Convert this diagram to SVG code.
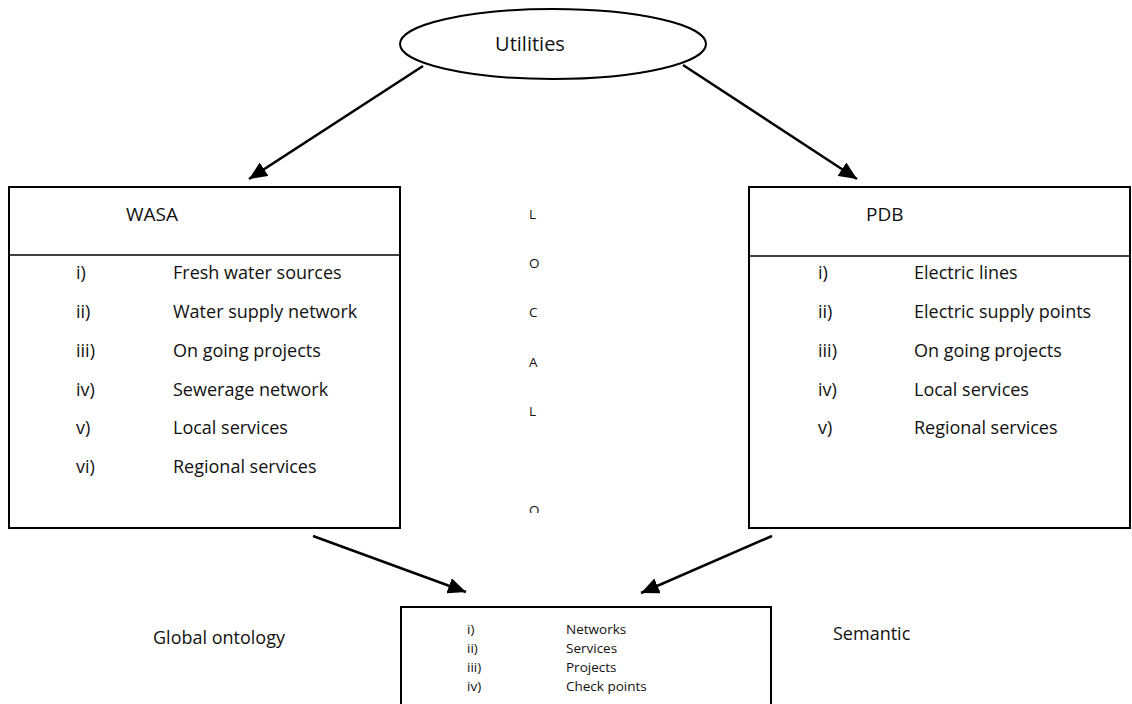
<svg xmlns="http://www.w3.org/2000/svg" width="1132" height="704" viewBox="0 0 1132 704">
<style>
text{font-family:"Open Sans","Liberation Sans",sans-serif;fill:#111}
.box{fill:#fff;stroke:#000;stroke-width:2}
.sep{stroke:#000;stroke-width:1.5}
.t{font-size:18px}
.s{font-size:13.5px}
.l{font-size:13.5px}
.c{stroke:#000;stroke-width:2.5;fill:none;marker-end:url(#ah)}
</style>
<defs>
<marker id="ah" markerUnits="userSpaceOnUse" markerWidth="20" markerHeight="16" refX="18" refY="8" orient="auto">
<path d="M0,0 L18,8 L0,16 Z" fill="#000"/>
</marker>
<clipPath id="clipO"><rect x="500" y="495" width="60" height="18"/></clipPath>
</defs>
<rect width="1132" height="704" fill="#fff"/>
<g id="connectors">
<line class="c" x1="423" y1="66" x2="249" y2="179"/>
<line class="c" x1="683" y1="65" x2="857" y2="179"/>
<line class="c" x1="313" y1="536" x2="466" y2="592"/>
<line class="c" x1="772" y1="536" x2="641" y2="593"/>
</g>
<g id="utilities">
<ellipse cx="553" cy="44" rx="153" ry="35" fill="#fff" stroke="#000" stroke-width="2"/>
<text x="530" y="51" class="t" style="font-size:20px" text-anchor="middle">Utilities</text>
</g>
<g id="wasa">
<rect class="box" x="9" y="187" width="391" height="341"/>
<line class="sep" x1="9" y1="255" x2="400" y2="255"/>
<text x="126" y="221" class="t" style="font-size:19px">WASA</text>
<text x="76" y="279" class="t">i)</text><text x="173" y="279" class="t">Fresh water sources</text>
<text x="76" y="318" class="t">ii)</text><text x="173" y="318" class="t">Water supply network</text>
<text x="76" y="357" class="t">iii)</text><text x="173" y="357" class="t">On going projects</text>
<text x="76" y="396" class="t">iv)</text><text x="173" y="396" class="t">Sewerage network</text>
<text x="76" y="434" class="t">v)</text><text x="173" y="434" class="t">Local services</text>
<text x="76" y="473" class="t">vi)</text><text x="173" y="473" class="t">Regional services</text>
</g>
<g id="pdb">
<rect class="box" x="749" y="187" width="381" height="341"/>
<line class="sep" x1="749" y1="256" x2="1130" y2="256"/>
<text x="866" y="221" class="t" style="font-size:19px">PDB</text>
<text x="818" y="279" class="t">i)</text><text x="914" y="279" class="t">Electric lines</text>
<text x="818" y="318" class="t">ii)</text><text x="914" y="318" class="t">Electric supply points</text>
<text x="818" y="357" class="t">iii)</text><text x="914" y="357" class="t">On going projects</text>
<text x="818" y="396" class="t">iv)</text><text x="914" y="396" class="t">Local services</text>
<text x="818" y="434" class="t">v)</text><text x="914" y="434" class="t">Regional services</text>
</g>
<g id="local">
<text x="529" y="219" class="l">L</text>
<text x="529" y="268" class="l">O</text>
<text x="529" y="317" class="l">C</text>
<text x="529" y="367" class="l">A</text>
<text x="529" y="416" class="l">L</text>
<text x="529" y="515" class="l" clip-path="url(#clipO)">O</text>
</g>
<g id="global">
<rect class="box" x="401" y="607" width="370" height="110"/>
<text x="467" y="634" class="s">i)</text><text x="566" y="634" class="s">Networks</text>
<text x="467" y="653" class="s">ii)</text><text x="566" y="653" class="s">Services</text>
<text x="467" y="672" class="s">iii)</text><text x="566" y="672" class="s">Projects</text>
<text x="467" y="691" class="s">iv)</text><text x="566" y="691" class="s">Check points</text>
</g>
<g id="labels">
<text x="153" y="644" class="t">Global ontology</text>
<text x="833" y="640" class="t">Semantic</text>
</g>
</svg>
